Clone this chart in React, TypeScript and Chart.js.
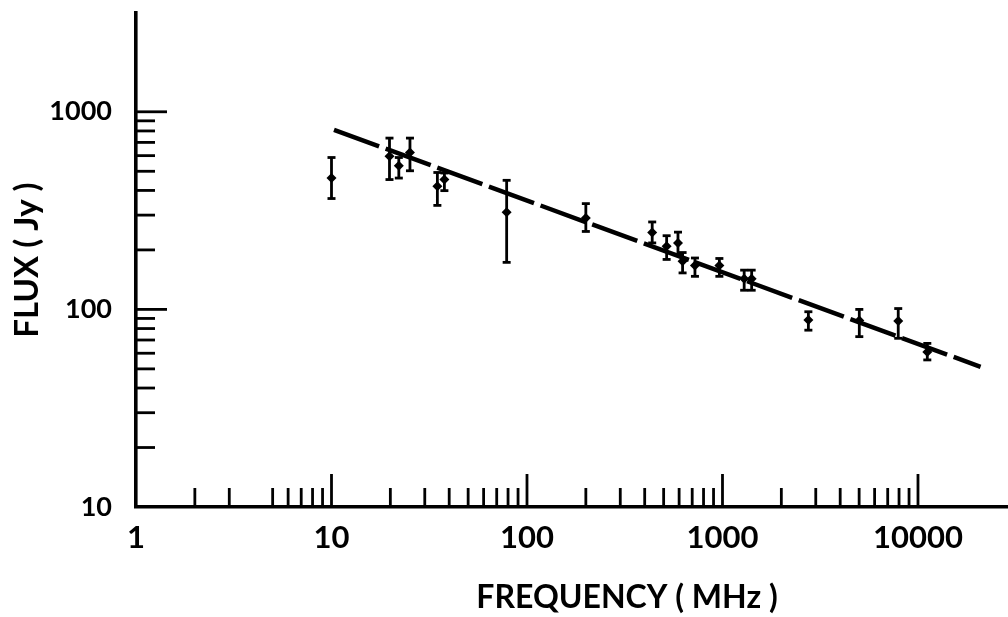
import React, { useEffect, useRef } from "react";
import { Chart, registerables } from "chart.js";

Chart.register(...registerables);

// Measured spectrum (frequency in MHz, flux in Jy)
const frequencies = [10, 19.8, 22.1, 25.2, 34.8, 37.8, 78.7, 200, 437, 518, 592, 625, 723, 964, 1291, 1410, 2750, 5010, 7925, 11160];
const fluxes = [462, 595, 533, 622, 420, 454, 310, 290, 245, 209, 217, 175, 167, 167, 143, 143, 88.3, 87.9, 87.3, 60.8];
const fluxHigh = [587, 736, 587, 736, 493, 490, 450, 343, 277, 236, 246, 194, 182, 181, 158, 158, 97.3, 100, 101, 67.3];
const fluxLow = [364, 454, 462, 503, 336, 399, 173, 248, 217, 179, 190, 153, 147, 147, 125, 125, 78.5, 72.8, 71.4, 55.5];

// Fitted power-law line end points
const fitFrequencies = [10.3, 20900];
const fitFluxes = [811, 51.2];

// Axis labels and tick marks
const xLabelTicks = [1, 10, 100, 1000, 10000];
const yLabelTicks = [10, 100, 1000];
const xMajorMarks = [10, 100, 1000, 10000];
const xMinorMarks = [2, 3, 5, 6, 7, 8, 9, 20, 30, 40, 50, 60, 70, 80, 90, 200, 300, 400, 500, 600, 700, 800, 900, 2000, 3000, 4000, 5000, 6000, 7000, 8000, 9000];
const yMajorMarks = [100, 1000];
const yMinorMarks = [20, 30, 40, 50, 60, 70, 80, 90, 200, 300, 400, 500, 600, 700, 800, 900];

const xTitle = "FREQUENCY ( MHz )";
const yTitle = "FLUX ( Jy )";

const FONT = "Lato, 'DejaVu Sans', sans-serif";

const tickMarksPlugin = {
  id: "tickMarks",
  afterDraw(chart: any) {
    const { ctx, chartArea } = chart;
    const xs = chart.scales.x;
    const ys = chart.scales.y;
    ctx.save();
    ctx.strokeStyle = "#000";
    ctx.lineWidth = 2.8;
    ctx.lineCap = "butt";
    const vx = (v: number, len: number) => {
      const px = xs.getPixelForValue(v);
      ctx.beginPath();
      ctx.moveTo(px, chartArea.bottom);
      ctx.lineTo(px, chartArea.bottom - len);
      ctx.stroke();
    };
    const hy = (v: number, len: number) => {
      const py = ys.getPixelForValue(v);
      ctx.beginPath();
      ctx.moveTo(chartArea.left, py);
      ctx.lineTo(chartArea.left + len, py);
      ctx.stroke();
    };
    xMajorMarks.forEach((v) => vx(v, 33));
    xMinorMarks.forEach((v) => vx(v, 19));
    yMajorMarks.forEach((v) => hy(v, 31));
    yMinorMarks.forEach((v) => hy(v, 19));
    // x axis title
    ctx.fillStyle = "#000";
    ctx.font = `bold 32px ${FONT}`;
    ctx.textAlign = "center";
    ctx.textBaseline = "middle";
    ctx.fillText(xTitle, chartArea.left + 491, chartArea.bottom + 91);
    ctx.restore();
  },
};

export default function App() {
  const canvasRef = useRef<HTMLCanvasElement | null>(null);

  useEffect(() => {
    const errorData: any[] = [];
    frequencies.forEach((f, i) => {
      errorData.push({ x: f, y: fluxLow[i] }, { x: f, y: fluxHigh[i] }, { x: f, y: null });
    });

    const chart = new Chart(canvasRef.current as HTMLCanvasElement, {
      type: "scatter",
      data: {
        datasets: [
          {
            label: "fit",
            data: fitFrequencies.map((f, i) => ({ x: f, y: fitFluxes[i] })),
            showLine: true,
            borderColor: "#000",
            borderWidth: 4.5,
            borderDash: [48, 7],
            borderCapStyle: "butt",
            pointRadius: 0,
          },
          {
            label: "errors",
            data: errorData,
            showLine: true,
            spanGaps: false,
            borderColor: "#000",
            borderWidth: 2.8,
            pointStyle: "line",
            pointRadius: 4,
            pointBorderWidth: 2.8,
            pointBorderColor: "#000",
          },
          {
            label: "flux",
            data: frequencies.map((f, i) => ({ x: f, y: fluxes[i] })),
            showLine: false,
            pointStyle: "rectRot",
            pointRadius: 5,
            pointBackgroundColor: "#000",
            pointBorderColor: "#000",
            pointBorderWidth: 0,
          },
        ],
      },
      options: {
        animation: false,
        responsive: false,
        layout: { autoPadding: false, padding: { top: 13, right: 0, left: 0, bottom: 0 } },
        plugins: {
          legend: { display: false },
          tooltip: { enabled: false },
        },
        scales: {
          x: {
            type: "logarithmic",
            bounds: "data",
            min: 1,
            max: 28870,
            afterBuildTicks: (scale: any) => {
              scale.ticks = xLabelTicks.map((v) => ({ value: v }));
            },
            afterFit: (scale: any) => {
              scale.height = 110;
              scale.paddingLeft = 0;
              scale.paddingRight = 0;
            },
            grid: { drawOnChartArea: false, drawTicks: false },
            border: { display: true, color: "#000", width: 3.6 },
            ticks: {
              color: "#000",
              font: { family: FONT, size: 31, weight: "bold" },
              padding: 12,
              autoSkip: false,
              maxRotation: 0,
              callback: (v: any) => String(v),
            },
          },
          y: {
            type: "logarithmic",
            bounds: "data",
            min: 10,
            max: 3162,
            afterBuildTicks: (scale: any) => {
              scale.ticks = yLabelTicks.map((v) => ({ value: v }));
            },
            afterFit: (scale: any) => {
              scale.width = 136;
              scale.paddingTop = 0;
              scale.paddingBottom = 0;
            },
            grid: { drawOnChartArea: false, drawTicks: false },
            border: { display: true, color: "#000", width: 3.6 },
            ticks: {
              color: "#000",
              font: { family: FONT, size: 27, weight: "bold" },
              padding: 24,
              autoSkip: false,
              callback: (v: any) => String(v),
            },
            title: {
              display: true,
              text: yTitle,
              color: "#000",
              font: { family: FONT, size: 33, weight: "bold", lineHeight: 1 },
              padding: { top: 11, bottom: 0 },
            },
          },
        },
      },
      plugins: [tickMarksPlugin],
    } as any);

    return () => chart.destroy();
  }, []);

  return (
    <div style={{ position: "fixed", left: 0, top: 0, width: 1008, height: 617, background: "#fff" }}>
      <canvas ref={canvasRef} width={1008} height={617} style={{ display: "block", width: 1008, height: 617 }} />
    </div>
  );
}
